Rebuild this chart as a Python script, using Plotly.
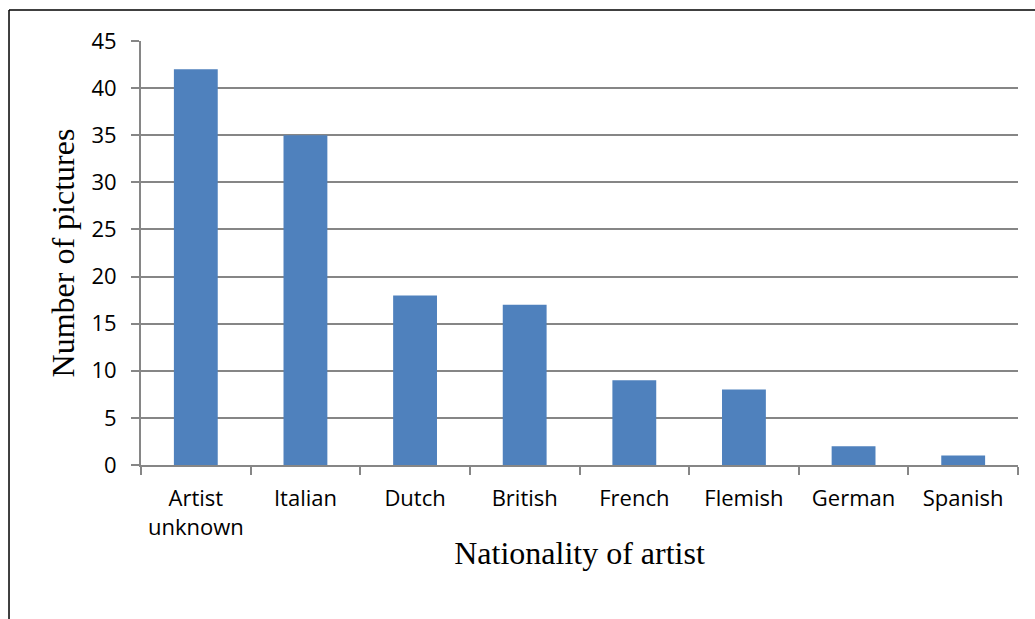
import plotly.graph_objects as go

categories = ["Artist<br>unknown", "Italian", "Dutch", "British", "French", "Flemish", "German", "Spanish"]
counts = [42, 35, 18, 17, 9, 8, 2, 1]
y_ticks = [0, 5, 10, 15, 20, 25, 30, 35, 40, 45]

fig = go.Figure(go.Bar(x=categories, y=counts, marker=dict(color="#4F81BD", line=dict(width=0))))

axis_gray = "#868686"
fig.update_layout(
    width=1035, height=619,
    margin=dict(l=141, r=17, t=41, b=154),
    paper_bgcolor="white", plot_bgcolor="white",
    bargap=0.6,
    showlegend=False,
    font=dict(family="Open Sans, Carlito, sans-serif", color="black"),
    xaxis=dict(
        showline=True, linecolor=axis_gray, linewidth=2,
        ticks="outside", tickson="boundaries", ticklen=8, tickcolor=axis_gray, tickwidth=2,
        tickfont=dict(size=22, family="Open Sans, sans-serif"),
        tickangle=0, automargin=False,
        ticklabelstandoff=13,
        title=dict(text="Nationality of artist", font=dict(family="Liberation Serif, Times New Roman, serif", size=32), standoff=2),
        showgrid=False,
    ),
    yaxis=dict(
        range=[0, 45], tickvals=y_ticks, automargin=False,
        showline=True, linecolor=axis_gray, linewidth=2,
        ticks="outside", ticklen=8, tickcolor=axis_gray, tickwidth=2,
        tickfont=dict(size=22, family="Open Sans, sans-serif"),
        ticklabelstandoff=10,
        showgrid=True, gridcolor=axis_gray, gridwidth=2,
        zeroline=False,
        title=dict(text="Number of pictures", font=dict(family="Liberation Serif, Times New Roman, serif", size=32), standoff=7),
    ),
    shapes=[
        dict(type="line", xref="paper", yref="paper", x0=-0.1505, x1=1.05, y0=1.0731, y1=1.0731,
             line=dict(color="black", width=1.5)),
        dict(type="line", xref="paper", yref="paper", x0=-0.1505, x1=-0.1505, y0=1.0731, y1=-0.4,
             line=dict(color="black", width=1.5)),
    ],
)

fig.write_html("out.html")
